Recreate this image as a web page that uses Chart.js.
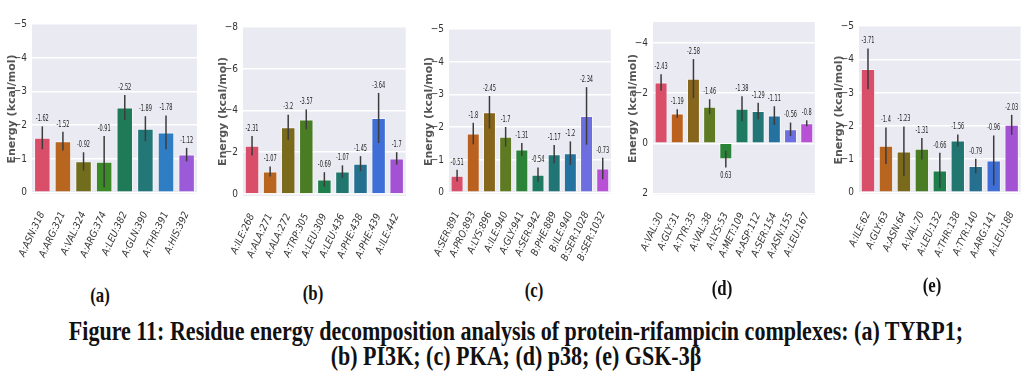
<!DOCTYPE html>
<html>
<head>
<meta charset="utf-8">
<script src="https://cdn.jsdelivr.net/npm/chart.js@4.4.0/dist/chart.umd.min.js"></script>
<style>
  body { margin: 0; background: #fff; width: 1031px; height: 392px; overflow: hidden; position: relative; }
  .panel { position: absolute; top: 0; }
  .ytick { position: absolute; width: 30px; text-align: right; font: 10px "DejaVu Sans Condensed", "DejaVu Sans", sans-serif; line-height: 12px; color: #333; z-index: 5; }
  .tag { position: absolute; font-family: "Liberation Serif", serif; font-weight: bold; font-size: 21px; line-height: 1; color: #111; transform: translateX(-50%) scaleX(0.8); }
  .cap { position: absolute; left: 50%; font-family: "Liberation Serif", serif; font-weight: bold; font-size: 27px; line-height: 1; color: #111; white-space: nowrap; transform-origin: 0 0; }
</style>
</head>
<body>
<div id="charts"></div>
<div class="tag" style="left:100px;top:285px">(a)</div>
<div class="tag" style="left:313px;top:283px">(b)</div>
<div class="tag" style="left:534px;top:280px">(c)</div>
<div class="tag" style="left:722px;top:278px">(d)</div>
<div class="tag" style="left:932px;top:275px">(e)</div>
<span class="cap" id="cap1" style="top:318px">Figure 11: Residue energy decomposition analysis of protein-rifampicin complexes: (a) TYRP1;</span>
<span class="cap" id="cap2" style="top:343px">(b) PI3K; (c) PKA; (d) p38; (e) GSK-3β</span>
<script>
// (a) TYRP1
const labelsA = ["A:ASN:318", "A:ARG:321", "A:VAL:324", "A:ARG:374", "A:LEU:382", "A:GLN:390", "A:THR:391", "A:HIS:392"];
const valuesA = [-1.62, -1.52, -0.92, -0.91, -2.52, -1.89, -1.78, -1.12];
const errA = [0.34, 0.28, 0.27, 0.76, 0.37, 0.37, 0.5, 0.2];

// (b) PI3K
const labelsB = ["A:ILE:268", "A:ALA:271", "A:ALA:272", "A:TRP:305", "A:LEU:309", "A:LEU:436", "A:PHE:438", "A:PHE:439", "A:ILE:442"];
const valuesB = [-2.31, -1.07, -3.2, -3.57, -0.69, -1.07, -1.45, -3.64, -1.7];
const errB = [0.47, 0.24, 0.6, 0.48, 0.35, 0.3, 0.36, 1.2, 0.3];

// (c) PKA
const labelsC = ["A:SER:891", "A:PRO:893", "A:LYS:896", "A:ILE:940", "A:GLY:941", "A:SER:942", "B:PHE:889", "B:ILE:940", "B:SER:1028", "B:SER:1032"];
const valuesC = [-0.51, -1.8, -2.45, -1.7, -1.31, -0.54, -1.17, -1.2, -2.34, -0.73];
const errC = [0.18, 0.33, 0.5, 0.3, 0.2, 0.22, 0.28, 0.36, 0.88, 0.33];

// (d) p38
const labelsD = ["A:VAL:30", "A:GLY:31", "A:TYR:35", "A:VAL:38", "A:LYS:53", "A:MET:109", "A:ASP:112", "A:SER:154", "A:ASN:155", "A:LEU:167"];
const valuesD = [-2.43, -1.19, -2.58, -1.46, 0.63, -1.38, -1.29, -1.11, -0.56, -0.8];
const errD = [0.33, 0.17, 0.78, 0.3, 0.33, 0.5, 0.33, 0.37, 0.27, 0.12];

// (e) GSK-3β
const labelsE = ["A:ILE:62", "A:GLY:63", "A:ASN:64", "A:VAL:70", "A:LEU:132", "A:THR:138", "A:TYR:140", "A:ARG:141", "A:LEU:188"];
const valuesE = [-3.71, -1.4, -1.23, -1.31, -0.66, -1.56, -0.79, -0.96, -2.03];
const errE = [0.61, 0.55, 0.75, 0.32, 0.53, 0.18, 0.22, 0.75, 0.3];

// y tick values per panel
const ticksA = [-5, -4, -3, -2, -1, 0];
const ticksB = [-8, -6, -4, -2, 0];
const ticksC = [-5, -4, -3, -2, -1, 0];
const ticksD = [-4, -2, 0, 2];
const ticksE = [-5, -4, -3, -2, -1, 0];

const pal8 = ["#d94f69", "#b8651f", "#726d1c", "#3b8a27", "#1f7a57", "#237777", "#2f7dc2", "#9b5bd9"];
const pal9 = ["#d94f69", "#b8651f", "#7a6a1c", "#4a7d23", "#1f7f4c", "#217770", "#25708e", "#3f6fd6", "#a452d4"];
const pal10 = ["#d94f69", "#bb6120", "#86661c", "#5e7a22", "#2b8338", "#1f7a62", "#217575", "#2472a0", "#6d6ee0", "#b851d6"];

const panels = [
  { labels: labelsA, values: valuesA, errs: errA, ticks: ticksA, min: -5, max: 0.05, left: 32, right: 198, top: 24, bottom: 194, colors: pal8 },
  { labels: labelsB, values: valuesB, errs: errB, ticks: ticksB, min: -8, max: 0.1, left: 243, right: 408, top: 27, bottom: 196, colors: pal9 },
  { labels: labelsC, values: valuesC, errs: errC, ticks: ticksC, min: -5, max: 0.05, left: 449, right: 614, top: 29, bottom: 194, colors: pal10 },
  { labels: labelsD, values: valuesD, errs: errD, ticks: ticksD, min: -4.84, max: 2.06, left: 653, right: 818, top: 22, bottom: 195, colors: pal10 },
  { labels: labelsE, values: valuesE, errs: errE, ticks: ticksE, min: -5, max: 0.05, left: 859, right: 1023, top: 26, bottom: 194, colors: pal9 }
];

const bgPlugin = {
  id: "bg",
  beforeDraw(chart) {
    const a = chart.chartArea, ctx = chart.ctx;
    ctx.save();
    ctx.fillStyle = "#eaeaf2";
    ctx.fillRect(a.left, a.top, a.right - a.left, a.bottom - a.top);
    ctx.restore();
  }
};

function tickText(v) {
  if (v === 0) return "0";
  return v < 0 ? "\u2212" + Math.abs(v) : String(v);
}

const errPlugin = {
  id: "err",
  afterDatasetsDraw(chart) {
    const ctx = chart.ctx, ys = chart.scales.y;
    const ds = chart.data.datasets[0];
    chart.getDatasetMeta(0).data.forEach((bar, i) => {
      const v = ds.data[i], e = ds.errs[i];
      const y1 = ys.getPixelForValue(v - e), y2 = ys.getPixelForValue(v + e);
      const top = Math.min(y1, y2), bot = Math.max(y1, y2);
      ctx.save();
      ctx.strokeStyle = "#3c3c3c";
      ctx.lineWidth = 1.5;
      ctx.beginPath();
      ctx.moveTo(bar.x, top);
      ctx.lineTo(bar.x, bot);
      ctx.stroke();
      ctx.fillStyle = "#222";
      ctx.font = "9px 'DejaVu Sans Condensed'";
      ctx.textAlign = "center";
      if (v <= 0) {
        ctx.textBaseline = "bottom";
        ctx.translate(bar.x, top - 3);
      } else {
        ctx.textBaseline = "top";
        ctx.translate(bar.x, bot + 4);
      }
      ctx.scale(0.62, 1);
      ctx.fillText(String(v), 0, 0);
      ctx.restore();
    });
  }
};

const H = 275;
panels.forEach(p => {
  const W = p.right - p.left + 40;
  const div = document.createElement("div");
  div.className = "panel";
  div.style.left = (p.left - 32) + "px";
  const cv = document.createElement("canvas");
  cv.width = W;
  cv.height = H;
  div.appendChild(cv);
  document.getElementById("charts").appendChild(div);

  const chart = new Chart(cv, {
    type: "bar",
    data: {
      labels: p.labels,
      datasets: [{
        data: p.values,
        errs: p.errs,
        backgroundColor: p.colors,
        borderColor: "rgba(255,255,255,0.55)",
        borderWidth: 1,
        barPercentage: 0.8,
        categoryPercentage: 1
      }]
    },
    options: {
      responsive: false,
      animation: false,
      devicePixelRatio: 1,
      layout: { padding: { top: p.top, right: 8, left: 0, bottom: 0 } },
      plugins: { legend: { display: false }, tooltip: { enabled: false } },
      scales: {
        x: {
          grid: { display: false },
          border: { display: false },
          ticks: {
            autoSkip: false, minRotation: 65, maxRotation: 65, padding: 8,
            color: "#333",
            font: { family: "DejaVu Sans Condensed", size: 10, style: "italic" }
          },
          afterFit(s) { s.height = H - p.bottom; }
        },
        y: {
          reverse: true,
          min: p.min,
          max: p.max,
          grid: { color: "#ffffff", lineWidth: 1.5, drawTicks: false },
          border: { display: false },
          ticks: { display: false },
          title: {
            display: true, text: "Energy (kcal/mol)", color: "#555",
            font: { family: "DejaVu Sans", size: 11, weight: "bold" },
            padding: { top: 6, bottom: 0 }
          },
          afterBuildTicks(s) {
            s.ticks = p.ticks.map(v => ({ value: v }));
          },
          afterFit(s) { s.width = 32; }
        }
      }
    },
    plugins: [bgPlugin, errPlugin]
  });

  // y tick labels as page text, placed from the chart's y scale
  const ys = chart.scales.y;
  p.ticks.forEach(v => {
    const s = document.createElement("div");
    s.className = "ytick";
    s.textContent = tickText(v);
    s.style.left = (p.left - 32 + ys.right - 5 - 30) + "px";
    s.style.top = (ys.getPixelForValue(v) - 6) + "px";
    document.body.appendChild(s);
  });
});

// squeeze the caption like the reference figure
const c1 = document.getElementById("cap1"), c2 = document.getElementById("cap2");
const k = 894 / c1.offsetWidth;
[c1, c2].forEach(c => {
  c.style.transform = "scaleX(" + k + ") translateX(-50%)";
});
</script>
</body>
</html>
